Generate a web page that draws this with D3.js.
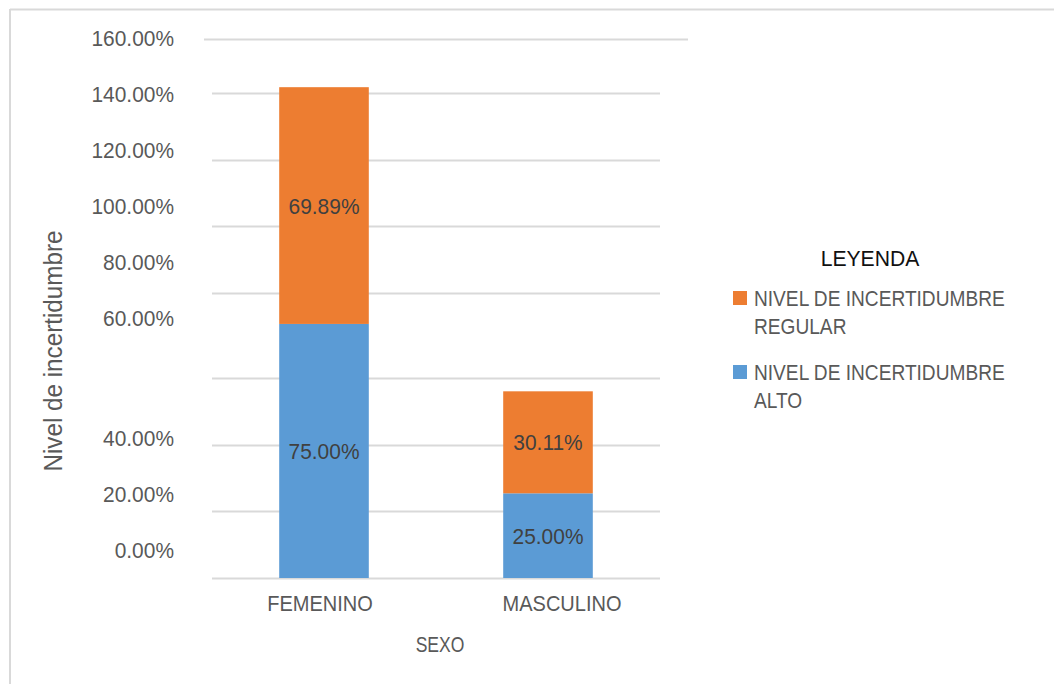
<!DOCTYPE html>
<html>
<head>
<meta charset="utf-8">
<script src="https://cdn.jsdelivr.net/npm/d3@7"></script>
<style>
  html, body { margin: 0; padding: 0; background: #fff; }
  svg { display: block; font-family: "Liberation Sans", Arial, sans-serif; }
</style>
</head>
<body>
<svg id="chart" width="1054" height="684"></svg>
<script>
// Categories and stacked series (percent)
const categories = ["FEMENINO", "MASCULINO"];
const seriesNames = ["NIVEL DE INCERTIDUMBRE ALTO", "NIVEL DE INCERTIDUMBRE REGULAR"];
const alto = [75.00, 25.00];
const regular = [69.89, 30.11];
const tickValues = [0, 20, 40, 60, 80, 100, 120, 140, 160];
const legendLabels = [
  ["NIVEL DE INCERTIDUMBRE", "REGULAR"],
  ["NIVEL DE INCERTIDUMBRE", "ALTO"]
];

const colors = { alto: "#5B9BD5", regular: "#ED7D31" };
const FS = 22.5;
const svg = d3.select("#chart");

// Outer frame (top and left edges)
svg.append("line").attr("x1", 10).attr("x2", 1054).attr("y1", 9.5).attr("y2", 9.5)
  .attr("stroke", "#d9d9d9").attr("stroke-width", 2);
svg.append("line").attr("x1", 10).attr("x2", 10).attr("y1", 9).attr("y2", 684)
  .attr("stroke", "#d9d9d9").attr("stroke-width", 2);

// Scales
const x = d3.scaleBand().domain(categories).range([212, 660])
  .paddingInner(0.6).paddingOuter(0.3);
const y = d3.scaleLinear().domain([0, 160]).range([578, 36]);
const gridY = d3.scaleLinear().domain([0, 60, 80, 140, 160]).range([578, 378, 293, 93, 38.5]);
const labelY = d3.scaleLinear().domain([0, 40, 60, 160]).range([550, 438, 318, 38]);

// Gridlines
svg.append("g").selectAll("line").data(tickValues).join("line")
  .attr("x1", d => d === 160 ? 204 : 212)
  .attr("x2", d => d === 160 ? 688 : 660)
  .attr("y1", d => Math.round(gridY(d)) + 0.5)
  .attr("y2", d => Math.round(gridY(d)) + 0.5)
  .attr("stroke", "#d9d9d9").attr("stroke-width", 2);

// Y tick labels
const fmt = d => d3.format(".2f")(d) + "%";
svg.append("g").selectAll("text").data(tickValues).join("text")
  .attr("transform", d => `translate(174,${labelY(d)}) scale(0.93,1)`)
  .attr("dy", "0.36em").attr("text-anchor", "end")
  .attr("font-size", FS).attr("fill", "#595959")
  .text(fmt);

// Stacked bars
const rows = categories.map((c, i) => ({ cat: c, alto: alto[i], regular: regular[i] }));
const stack = d3.stack().keys(["alto", "regular"])(rows);

const layers = svg.append("g").selectAll("g").data(stack).join("g")
  .attr("fill", d => colors[d.key]);
layers.selectAll("rect").data(d => d).join("rect")
  .attr("x", d => x(d.data.cat))
  .attr("width", x.bandwidth())
  .attr("y", d => y(d[1]))
  .attr("height", d => y(d[0]) - y(d[1]));

// Value labels inside segments
layers.selectAll("text").data(d => d.map(v => ({ v, key: d.key }))).join("text")
  .attr("transform", d => `translate(${x(d.v.data.cat) + x.bandwidth() / 2},${(y(d.v[0]) + y(d.v[1])) / 2}) scale(0.93,1)`)
  .attr("dy", "0.36em").attr("text-anchor", "middle")
  .attr("font-size", FS).attr("fill", "#404040")
  .text(d => fmt(d.v.data[d.key]));

// Category labels
svg.append("g").selectAll("text").data(categories).join("text")
  .attr("transform", (d, i) => `translate(${x(d) + x.bandwidth() / 2 + (i === 0 ? -4 : 14)},611) scale(0.89,1)`)
  .attr("text-anchor", "middle").attr("font-size", FS).attr("fill", "#595959")
  .text(d => d);

// Axis titles
svg.append("text")
  .attr("transform", "translate(440,652) scale(0.78,1)")
  .attr("text-anchor", "middle").attr("font-size", FS).attr("fill", "#595959")
  .text("SEXO");
svg.append("text")
  .attr("transform", "translate(62,351) rotate(-90) scale(0.97,1)")
  .attr("text-anchor", "middle").attr("font-size", 25).attr("fill", "#595959")
  .text("Nivel de incertidumbre");

// Legend
svg.append("text")
  .attr("transform", "translate(870,266) scale(0.94,1)")
  .attr("text-anchor", "middle")
  .attr("font-size", FS).attr("fill", "#111").text("LEYENDA");
const legendKeys = ["regular", "alto"];
const legend = svg.append("g").selectAll("g").data(legendKeys).join("g")
  .attr("transform", (d, i) => `translate(733,${291 + i * 74})`);
legend.append("rect").attr("width", 14).attr("height", 14)
  .attr("fill", d => colors[d]);
legend.each(function (d, i) {
  const g = d3.select(this);
  legendLabels[i].forEach((line, j) => {
    g.append("text")
      .attr("transform", `translate(21,${15 + j * 28}) scale(0.85,1)`)
      .attr("font-size", FS).attr("fill", "#595959")
      .text(line);
  });
});
</script>
</body>
</html>
